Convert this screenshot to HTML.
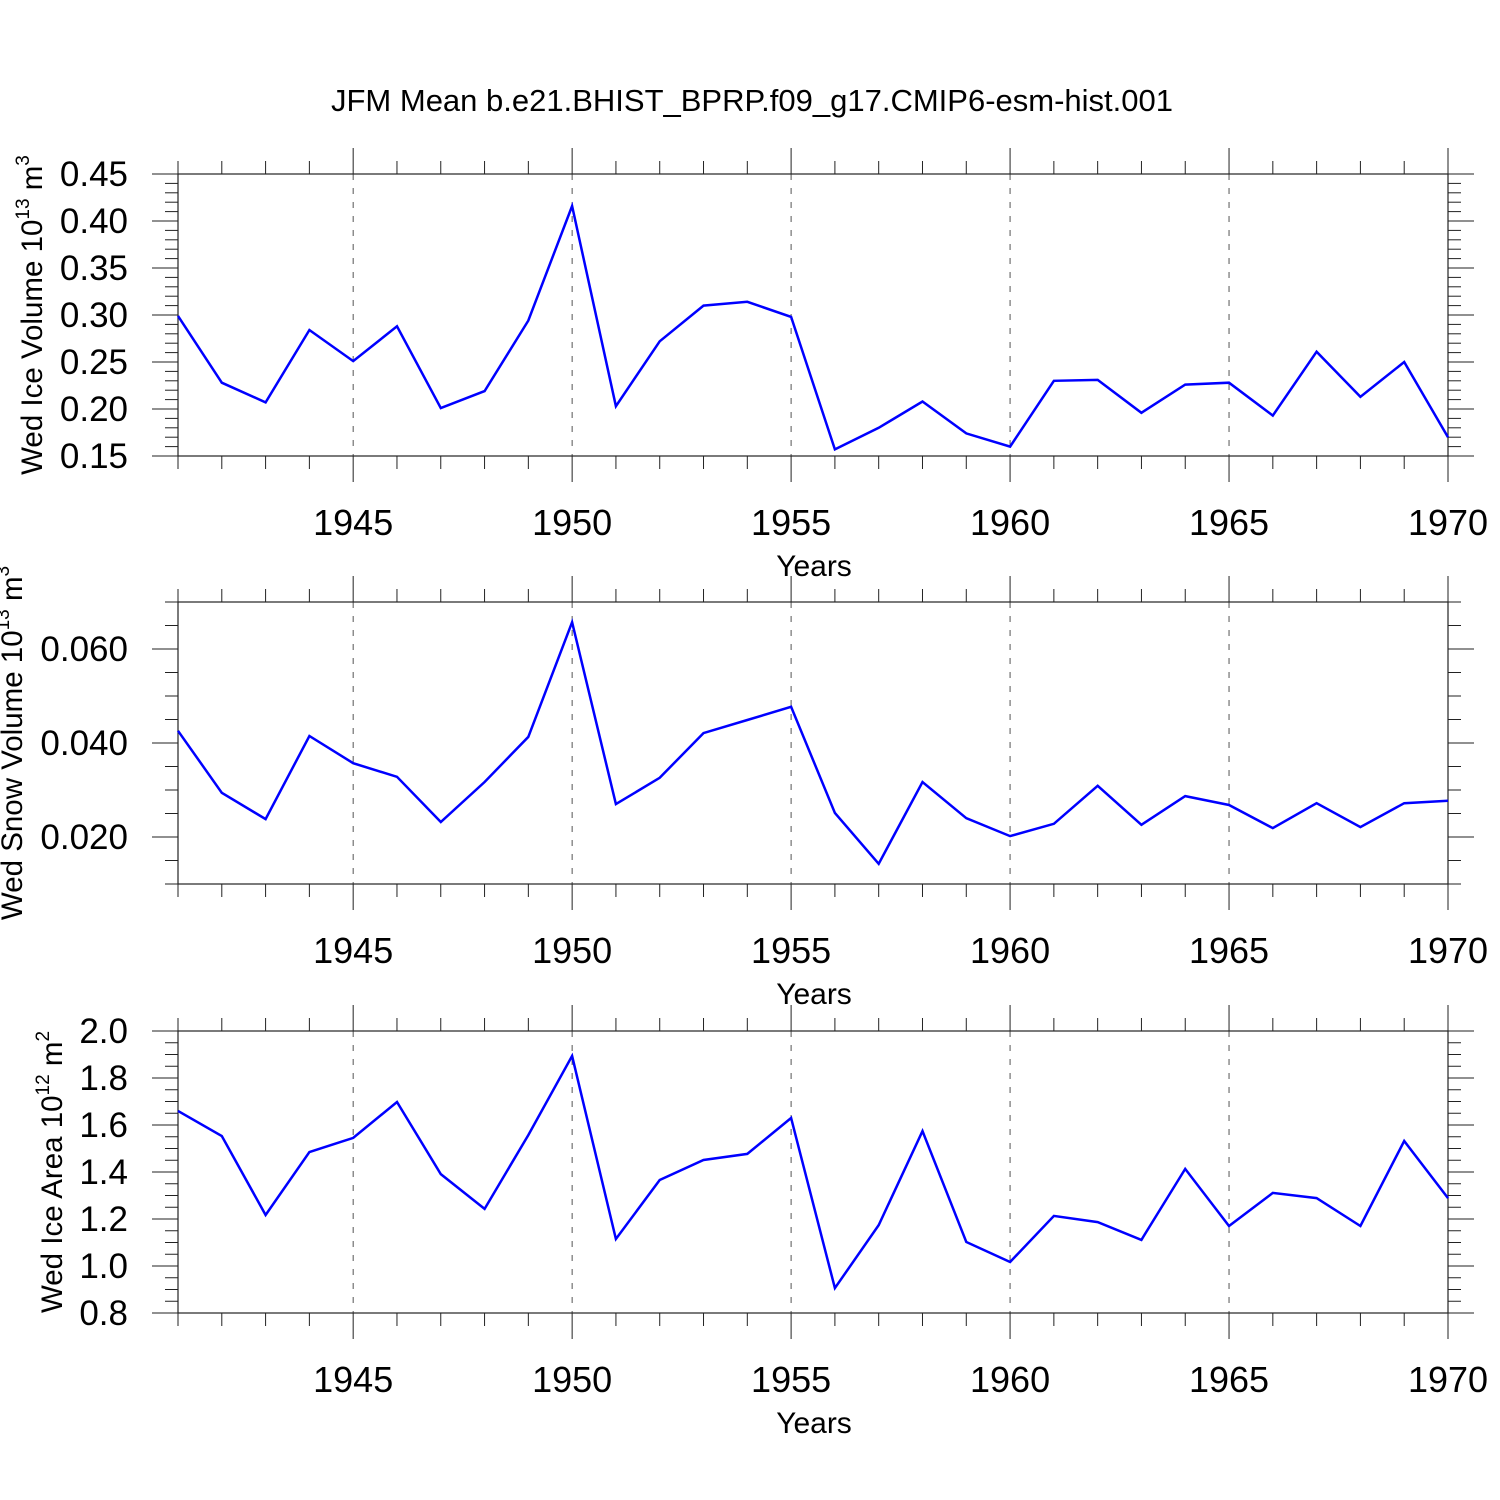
<!DOCTYPE html>
<html><head><meta charset="utf-8"><style>
html,body{margin:0;padding:0;background:#fff;}
svg{display:block;font-family:"Liberation Sans",sans-serif;}
</style></head><body>
<svg id="chart" width="1500" height="1500" viewBox="0 0 1500 1500">
<text x="752" y="111" font-size="31" text-anchor="middle">JFM Mean b.e21.BHIST_BPRP.f09_g17.CMIP6-esm-hist.001</text>
</svg>
<script>
const years = [1941,1942,1943,1944,1945,1946,1947,1948,1949,1950,1951,1952,1953,1954,1955,1956,1957,1958,1959,1960,1961,1962,1963,1964,1965,1966,1967,1968,1969,1970];
const iceVolume = [0.299,0.228,0.207,0.284,0.251,0.288,0.201,0.219,0.294,0.416,0.203,0.272,0.310,0.314,0.298,0.157,0.180,0.208,0.174,0.160,0.230,0.231,0.196,0.226,0.228,0.193,0.261,0.213,0.250,0.170];
const snowVolume = [0.0426,0.0294,0.0238,0.0415,0.0357,0.0328,0.0232,0.0317,0.0413,0.0657,0.0270,0.0326,0.0421,0.0449,0.0477,0.0251,0.0143,0.0317,0.0240,0.0202,0.0228,0.0309,0.0226,0.0287,0.0268,0.0219,0.0272,0.0221,0.0272,0.0277];
const iceArea = [1.66,1.553,1.217,1.485,1.545,1.698,1.391,1.243,1.557,1.894,1.115,1.366,1.451,1.477,1.630,0.906,1.174,1.574,1.102,1.017,1.213,1.187,1.111,1.413,1.170,1.311,1.289,1.170,1.532,1.289];
const xTickLabels = ["1945","1950","1955","1960","1965","1970"];
const iceVolTicks = ["0.15","0.20","0.25","0.30","0.35","0.40","0.45"];
const snowVolTicks = ["0.020","0.040","0.060"];
const areaTicks = ["0.8","1.0","1.2","1.4","1.6","1.8","2.0"];

const NS="http://www.w3.org/2000/svg";
const svg=document.getElementById('chart');
const X0=178,X1=1448,XMIN=1941,XMAX=1970;
function xs(v){return X0+(v-XMIN)/(XMAX-XMIN)*(X1-X0);}
function mk(tag,attrs,parent){const e=document.createElementNS(NS,tag);for(const k in attrs)e.setAttribute(k,attrs[k]);(parent||svg).appendChild(e);return e;}

function panel(cfg){
  const top=cfg.top,bot=top+282;
  const g=mk('g',{});
  
  
  function ys(v){return top+(cfg.max-v)/(cfg.max-cfg.min)*(bot-top);}
  for(let y=1945;y<1970;y+=5){
    const l=mk('line',{x1:xs(y),x2:xs(y),y1:top,y2:bot,stroke:'#555','stroke-width':1,'stroke-dasharray':'6,8'},g);
    
    
  }
  for(let y=XMIN;y<=XMAX;y++){
    const maj=y%5===0, len=maj?26:13, x=xs(y);
    mk('line',{x1:x,x2:x,y1:bot,y2:bot+len,stroke:'#222','stroke-width':1},g);
    mk('line',{x1:x,x2:x,y1:top,y2:top-len,stroke:'#222','stroke-width':1},g);
  }
  const steps=Math.round((cfg.max-cfg.min)/cfg.minor);
  for(let i=0;i<=steps;i++){
    const v=cfg.min+i*cfg.minor, y=ys(v);
    const r=(v-cfg.majorBase)/cfg.major;
    const maj=Math.abs(r-Math.round(r))<1e-6, len=maj?26:13;
    mk('line',{x1:X0,x2:X0-len,y1:y,y2:y,stroke:'#222','stroke-width':1},g);
    mk('line',{x1:X1,x2:X1+len,y1:y,y2:y,stroke:'#222','stroke-width':1},g);
  }
  const f=mk('rect',{x:X0,y:top,width:X1-X0,height:bot-top,fill:'none',stroke:'#222','stroke-width':1.2},g);
  
  
  cfg.ticks.forEach(t=>{
    const tx=mk('text',{x:128,y:ys(parseFloat(t))+12,'font-size':35,'text-anchor':'end'},g);
    tx.textContent=t;
    
    
  });
  xTickLabels.forEach(t=>{
    const tx=mk('text',{x:xs(parseFloat(t)),y:bot+79,'font-size':36,'text-anchor':'middle'},g);
    tx.textContent=t;
    
    
  });
  const xt=mk('text',{x:814,y:bot+120,'font-size':30,'text-anchor':'middle'},g);
  xt.textContent='Years';
  
  
  const yt=mk('text',{transform:`translate(${cfg.titleX},${top+141}) rotate(-90)`,'font-size':29.5,'text-anchor':'middle'},g);
  yt.innerHTML=cfg.title+' 10<tspan dy="-13" font-size="19">'+cfg.exp+'</tspan><tspan dy="13"> m</tspan><tspan dy="-13" font-size="19">'+cfg.unitExp+'</tspan>';
  
  
  const pts=years.map((y,i)=>xs(y).toFixed(1)+','+ys(cfg.data[i]).toFixed(1)).join(' ');
  const pl=mk('polyline',{points:pts,fill:'none',stroke:'#0000ff','stroke-width':2.5,'stroke-linejoin':'miter'},g);
  
  
}
panel({name:'ice-volume-panel',top:174,min:0.15,max:0.45,minor:0.01,major:0.05,majorBase:0.15,ticks:iceVolTicks,data:iceVolume,title:'Wed Ice Volume',exp:'13',unitExp:'3',titleX:42});
panel({name:'snow-volume-panel',top:602,min:0.010,max:0.070,minor:0.005,major:0.02,majorBase:0.0,ticks:snowVolTicks,data:snowVolume,title:'Wed Snow Volume',exp:'13',unitExp:'3',titleX:22});
panel({name:'ice-area-panel',top:1031,min:0.8,max:2.0,minor:0.05,major:0.2,majorBase:0.8,ticks:areaTicks,data:iceArea,title:'Wed Ice Area',exp:'12',unitExp:'2',titleX:62});
</script>
</body></html>
